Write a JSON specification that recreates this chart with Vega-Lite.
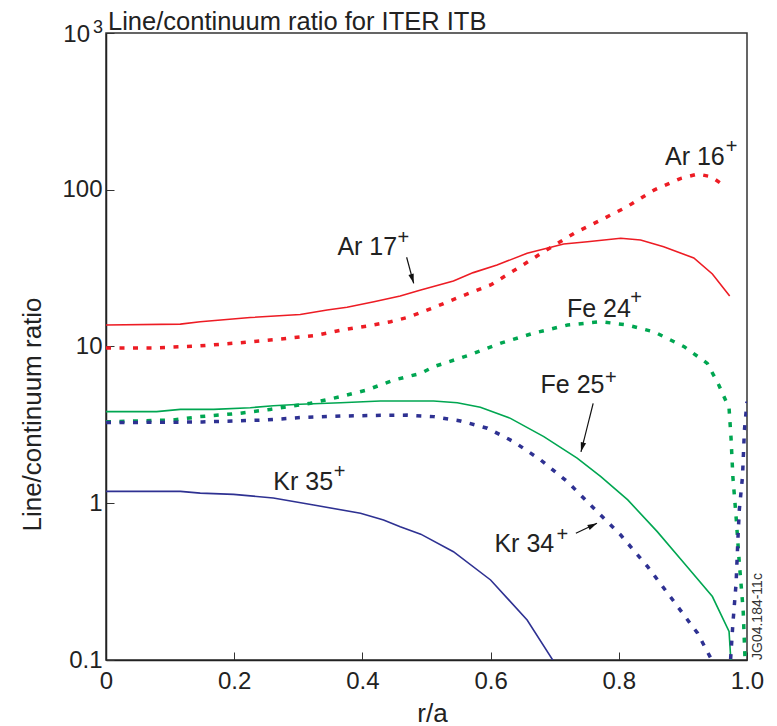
{
  "$schema": "https://vega.github.io/schema/vega-lite/v6.json",
  "width": 641,
  "height": 627,
  "autosize": {"type": "none"},
  "padding": {"left": 106, "top": 33, "right": 30, "bottom": 66},
  "background": "white",
  "config": {
    "view": {"stroke": "#333333", "strokeWidth": 1.5},
    "font": "Liberation Sans",
    "axis": {"grid": false}
  },
  "datasets": {
    "curves": [
      {"series": "Ar17", "style": "solid", "x": 0, "y": 13.7},
      {"series": "Ar17", "style": "solid", "x": 0.116, "y": 13.9},
      {"series": "Ar17", "style": "solid", "x": 0.147, "y": 14.4},
      {"series": "Ar17", "style": "solid", "x": 0.225, "y": 15.3},
      {"series": "Ar17", "style": "solid", "x": 0.303, "y": 16.0},
      {"series": "Ar17", "style": "solid", "x": 0.345, "y": 17.1},
      {"series": "Ar17", "style": "solid", "x": 0.376, "y": 17.8},
      {"series": "Ar17", "style": "solid", "x": 0.418, "y": 19.3},
      {"series": "Ar17", "style": "solid", "x": 0.459, "y": 21.0},
      {"series": "Ar17", "style": "solid", "x": 0.491, "y": 22.9},
      {"series": "Ar17", "style": "solid", "x": 0.542, "y": 26.2},
      {"series": "Ar17", "style": "solid", "x": 0.573, "y": 29.6},
      {"series": "Ar17", "style": "solid", "x": 0.610, "y": 33.1},
      {"series": "Ar17", "style": "solid", "x": 0.657, "y": 39.3},
      {"series": "Ar17", "style": "solid", "x": 0.714, "y": 45.1},
      {"series": "Ar17", "style": "solid", "x": 0.751, "y": 46.6},
      {"series": "Ar17", "style": "solid", "x": 0.803, "y": 49.0},
      {"series": "Ar17", "style": "solid", "x": 0.834, "y": 47.8},
      {"series": "Ar17", "style": "solid", "x": 0.870, "y": 43.3},
      {"series": "Ar17", "style": "solid", "x": 0.917, "y": 36.7},
      {"series": "Ar17", "style": "solid", "x": 0.946, "y": 29.0},
      {"series": "Ar17", "style": "solid", "x": 0.973, "y": 21.0},

      {"series": "Ar16", "style": "dotted", "x": 0, "y": 9.8},
      {"series": "Ar16", "style": "dotted", "x": 0.079, "y": 9.8},
      {"series": "Ar16", "style": "dotted", "x": 0.147, "y": 10.1},
      {"series": "Ar16", "style": "dotted", "x": 0.214, "y": 10.6},
      {"series": "Ar16", "style": "dotted", "x": 0.277, "y": 11.2},
      {"series": "Ar16", "style": "dotted", "x": 0.329, "y": 11.8},
      {"series": "Ar16", "style": "dotted", "x": 0.366, "y": 12.7},
      {"series": "Ar16", "style": "dotted", "x": 0.407, "y": 13.5},
      {"series": "Ar16", "style": "dotted", "x": 0.444, "y": 14.4},
      {"series": "Ar16", "style": "dotted", "x": 0.470, "y": 15.3},
      {"series": "Ar16", "style": "dotted", "x": 0.511, "y": 17.7},
      {"series": "Ar16", "style": "dotted", "x": 0.553, "y": 20.8},
      {"series": "Ar16", "style": "dotted", "x": 0.600, "y": 24.7},
      {"series": "Ar16", "style": "dotted", "x": 0.642, "y": 31.5},
      {"series": "Ar16", "style": "dotted", "x": 0.683, "y": 40.3},
      {"series": "Ar16", "style": "dotted", "x": 0.730, "y": 52.7},
      {"series": "Ar16", "style": "dotted", "x": 0.772, "y": 64.1},
      {"series": "Ar16", "style": "dotted", "x": 0.813, "y": 78.0},
      {"series": "Ar16", "style": "dotted", "x": 0.855, "y": 99.6},
      {"series": "Ar16", "style": "dotted", "x": 0.897, "y": 118.3},
      {"series": "Ar16", "style": "dotted", "x": 0.923, "y": 126.0},
      {"series": "Ar16", "style": "dotted", "x": 0.944, "y": 121.1},
      {"series": "Ar16", "style": "dotted", "x": 0.967, "y": 104.5},

      {"series": "Fe25", "style": "solid", "x": 0, "y": 3.84},
      {"series": "Fe25", "style": "solid", "x": 0.079, "y": 3.84},
      {"series": "Fe25", "style": "solid", "x": 0.116, "y": 3.97},
      {"series": "Fe25", "style": "solid", "x": 0.168, "y": 3.97},
      {"series": "Fe25", "style": "solid", "x": 0.225, "y": 4.07},
      {"series": "Fe25", "style": "solid", "x": 0.261, "y": 4.19},
      {"series": "Fe25", "style": "solid", "x": 0.303, "y": 4.28},
      {"series": "Fe25", "style": "solid", "x": 0.366, "y": 4.38},
      {"series": "Fe25", "style": "solid", "x": 0.428, "y": 4.49},
      {"series": "Fe25", "style": "solid", "x": 0.511, "y": 4.49},
      {"series": "Fe25", "style": "solid", "x": 0.548, "y": 4.38},
      {"series": "Fe25", "style": "solid", "x": 0.584, "y": 4.10},
      {"series": "Fe25", "style": "solid", "x": 0.631, "y": 3.48},
      {"series": "Fe25", "style": "solid", "x": 0.683, "y": 2.66},
      {"series": "Fe25", "style": "solid", "x": 0.735, "y": 1.94},
      {"series": "Fe25", "style": "solid", "x": 0.772, "y": 1.48},
      {"series": "Fe25", "style": "solid", "x": 0.814, "y": 1.05},
      {"series": "Fe25", "style": "solid", "x": 0.860, "y": 0.659},
      {"series": "Fe25", "style": "solid", "x": 0.902, "y": 0.414},
      {"series": "Fe25", "style": "solid", "x": 0.946, "y": 0.254},
      {"series": "Fe25", "style": "solid", "x": 0.972, "y": 0.152},
      {"series": "Fe25", "style": "solid", "x": 0.975, "y": 0.097},

      {"series": "Fe24", "style": "dotted", "x": 0, "y": 3.31},
      {"series": "Fe24", "style": "dotted", "x": 0.105, "y": 3.40},
      {"series": "Fe24", "style": "dotted", "x": 0.147, "y": 3.57},
      {"series": "Fe24", "style": "dotted", "x": 0.209, "y": 3.75},
      {"series": "Fe24", "style": "dotted", "x": 0.256, "y": 3.97},
      {"series": "Fe24", "style": "dotted", "x": 0.319, "y": 4.34},
      {"series": "Fe24", "style": "dotted", "x": 0.366, "y": 4.79},
      {"series": "Fe24", "style": "dotted", "x": 0.407, "y": 5.28},
      {"series": "Fe24", "style": "dotted", "x": 0.449, "y": 6.11},
      {"series": "Fe24", "style": "dotted", "x": 0.491, "y": 6.74},
      {"series": "Fe24", "style": "dotted", "x": 0.511, "y": 7.43},
      {"series": "Fe24", "style": "dotted", "x": 0.564, "y": 8.74},
      {"series": "Fe24", "style": "dotted", "x": 0.616, "y": 10.5},
      {"series": "Fe24", "style": "dotted", "x": 0.668, "y": 12.2},
      {"series": "Fe24", "style": "dotted", "x": 0.720, "y": 13.7},
      {"series": "Fe24", "style": "dotted", "x": 0.772, "y": 14.4},
      {"series": "Fe24", "style": "dotted", "x": 0.814, "y": 13.7},
      {"series": "Fe24", "style": "dotted", "x": 0.855, "y": 12.4},
      {"series": "Fe24", "style": "dotted", "x": 0.902, "y": 9.97},
      {"series": "Fe24", "style": "dotted", "x": 0.938, "y": 7.81},
      {"series": "Fe24", "style": "dotted", "x": 0.956, "y": 5.68},
      {"series": "Fe24", "style": "dotted", "x": 0.972, "y": 4.05},
      {"series": "Fe24", "style": "dotted", "x": 0.975, "y": 2.65},
      {"series": "Fe24", "style": "dotted", "x": 0.978, "y": 1.47},
      {"series": "Fe24", "style": "dotted", "x": 0.983, "y": 0.817},
      {"series": "Fe24", "style": "dotted", "x": 0.988, "y": 0.416},
      {"series": "Fe24", "style": "dotted", "x": 0.994, "y": 0.208},
      {"series": "Fe24", "style": "dotted", "x": 0.997, "y": 0.1},

      {"series": "Kr35", "style": "solid", "x": 0, "y": 1.19},
      {"series": "Kr35", "style": "solid", "x": 0.116, "y": 1.19},
      {"series": "Kr35", "style": "solid", "x": 0.147, "y": 1.16},
      {"series": "Kr35", "style": "solid", "x": 0.199, "y": 1.14},
      {"series": "Kr35", "style": "solid", "x": 0.261, "y": 1.08},
      {"series": "Kr35", "style": "solid", "x": 0.324, "y": 0.975},
      {"series": "Kr35", "style": "solid", "x": 0.397, "y": 0.863},
      {"series": "Kr35", "style": "solid", "x": 0.433, "y": 0.782},
      {"series": "Kr35", "style": "solid", "x": 0.459, "y": 0.709},
      {"series": "Kr35", "style": "solid", "x": 0.491, "y": 0.635},
      {"series": "Kr35", "style": "solid", "x": 0.542, "y": 0.491},
      {"series": "Kr35", "style": "solid", "x": 0.600, "y": 0.324},
      {"series": "Kr35", "style": "solid", "x": 0.657, "y": 0.180},
      {"series": "Kr35", "style": "solid", "x": 0.699, "y": 0.097},

      {"series": "Kr34", "style": "dotted", "x": 0, "y": 3.27},
      {"series": "Kr34", "style": "dotted", "x": 0.15, "y": 3.30},
      {"series": "Kr34", "style": "dotted", "x": 0.251, "y": 3.40},
      {"series": "Kr34", "style": "dotted", "x": 0.303, "y": 3.52},
      {"series": "Kr34", "style": "dotted", "x": 0.366, "y": 3.60},
      {"series": "Kr34", "style": "dotted", "x": 0.430, "y": 3.64},
      {"series": "Kr34", "style": "dotted", "x": 0.470, "y": 3.65},
      {"series": "Kr34", "style": "dotted", "x": 0.511, "y": 3.57},
      {"series": "Kr34", "style": "dotted", "x": 0.553, "y": 3.35},
      {"series": "Kr34", "style": "dotted", "x": 0.595, "y": 3.01},
      {"series": "Kr34", "style": "dotted", "x": 0.636, "y": 2.47},
      {"series": "Kr34", "style": "dotted", "x": 0.678, "y": 1.89},
      {"series": "Kr34", "style": "dotted", "x": 0.720, "y": 1.37},
      {"series": "Kr34", "style": "dotted", "x": 0.761, "y": 0.929},
      {"series": "Kr34", "style": "dotted", "x": 0.803, "y": 0.627},
      {"series": "Kr34", "style": "dotted", "x": 0.845, "y": 0.394},
      {"series": "Kr34", "style": "dotted", "x": 0.886, "y": 0.236},
      {"series": "Kr34", "style": "dotted", "x": 0.923, "y": 0.148},
      {"series": "Kr34", "style": "dotted", "x": 0.945, "y": 0.1},
      {"series": "Kr34", "style": "dotted", "x": 0.960, "y": 0.06},
      {"series": "Kr34", "style": "dotted", "x": 0.974, "y": 0.095},
      {"series": "Kr34", "style": "dotted", "x": 0.978, "y": 0.171},
      {"series": "Kr34", "style": "dotted", "x": 0.983, "y": 0.309},
      {"series": "Kr34", "style": "dotted", "x": 0.986, "y": 0.612},
      {"series": "Kr34", "style": "dotted", "x": 0.988, "y": 0.906},
      {"series": "Kr34", "style": "dotted", "x": 0.993, "y": 1.48},
      {"series": "Kr34", "style": "dotted", "x": 0.996, "y": 2.93},
      {"series": "Kr34", "style": "dotted", "x": 1.0, "y": 4.45}
    ],
    "labels": [
      {"text": "Ar 16", "x": 0.872, "y": 143.8},
      {"text": "Ar 17", "x": 0.361, "y": 38.4},
      {"text": "Fe 24", "x": 0.719, "y": 15.4},
      {"text": "Fe 25", "x": 0.678, "y": 5.05},
      {"text": "Kr 35", "x": 0.261, "y": 1.215},
      {"text": "Kr 34", "x": 0.606, "y": 0.489}
    ],
    "plus": [
      {"text": "+", "x": 0.976, "y": 188.3},
      {"text": "+", "x": 0.464, "y": 49.2},
      {"text": "+", "x": 0.827, "y": 20.3},
      {"text": "+", "x": 0.7875, "y": 6.30},
      {"text": "+", "x": 0.3645, "y": 1.589},
      {"text": "+", "x": 0.712, "y": 0.627}
    ],
    "arrows": [
      {"x": 0.469, "y": 37.1, "x2": 0.480, "y2": 25.3, "ang": 164},
      {"x": 0.760, "y": 4.34, "x2": 0.741, "y2": 2.13, "ang": 195},
      {"x": 0.733, "y": 0.643, "x2": 0.766, "y2": 0.745, "ang": 64}
    ],
    "heading": [
      {"text": "Line/continuum ratio for ITER ITB", "x": 0, "y": 1000}
    ],
    "topbase": [
      {"text": "10", "x": 0, "y": 1000}
    ],
    "topexp": [
      {"text": "3", "x": 0, "y": 1000}
    ],
    "stamp": [
      {"text": "JG04.184-11c", "x": 1.0, "y": 0.1}
    ]
  },
  "layer": [
    {
      "data": {"name": "curves"},
      "transform": [{"filter": "datum.style == 'solid'"}],
      "mark": {"type": "line", "clip": true, "strokeWidth": 1.6},
      "encoding": {
        "x": {
          "field": "x", "type": "quantitative",
          "scale": {"domain": [0, 1], "nice": false, "zero": false},
          "axis": {
            "title": "r/a",
            "values": [0, 0.2, 0.4, 0.6, 0.8, 1.0],
            "labelExpr": "datum.value == 0 ? '0' : format(datum.value, '.1f')",
            "tickSize": -8,
            "tickColor": "#333333",
            "tickWidth": 1,
            "domainColor": "#222222",
            "domainWidth": 1.5,
            "labelFontSize": 24,
            "labelColor": "#222222",
            "labelPadding": 17,
            "labelFlush": false,
            "titleFontSize": 26,
            "titleFontWeight": "normal",
            "titleColor": "#222222",
            "titleX": 326,
            "titleY": 53,
            "titleBaseline": "middle",
            "titleAlign": "center"
          }
        },
        "y": {
          "field": "y", "type": "quantitative",
          "scale": {"type": "log", "domain": [0.1, 1000], "nice": false},
          "axis": {
            "title": "Line/continuum ratio",
            "values": [0.1, 1, 10, 100, 1000],
            "labelExpr": "datum.value >= 1000 ? '' : (datum.value < 1 ? '0.1' : format(datum.value, 'd'))",
            "tickSize": -8,
            "tickColor": "#333333",
            "tickWidth": 1,
            "domainColor": "#222222",
            "domainWidth": 1.5,
            "labelFontSize": 24,
            "labelColor": "#222222",
            "labelPadding": 12,
            "labelFlush": false,
            "titleFontSize": 26,
            "titleFontWeight": "normal",
            "titleColor": "#222222",
            "titleAngle": -90,
            "titleX": -74,
            "titleY": 381,
            "titleBaseline": "middle",
            "titleAlign": "center"
          }
        },
        "color": {
          "field": "series", "type": "nominal",
          "scale": {
            "domain": ["Ar17", "Ar16", "Fe25", "Fe24", "Kr35", "Kr34"],
            "range": ["#ed1c24", "#ed1c24", "#00a651", "#00a651", "#2e3192", "#2e3192"]
          },
          "legend": null
        }
      }
    },
    {
      "data": {"name": "curves"},
      "transform": [{"filter": "datum.style == 'dotted'"}],
      "mark": {"type": "line", "clip": true, "strokeWidth": 3.5, "strokeDash": [5, 8.5]},
      "encoding": {
        "x": {"field": "x", "type": "quantitative"},
        "y": {"field": "y", "type": "quantitative"},
        "color": {"field": "series", "type": "nominal", "legend": null}
      }
    },
    {
      "data": {"name": "arrows"},
      "mark": {"type": "rule", "color": "#111111", "strokeWidth": 1.2},
      "encoding": {
        "x": {"field": "x", "type": "quantitative"},
        "y": {"field": "y", "type": "quantitative"},
        "x2": {"field": "x2"},
        "y2": {"field": "y2"}
      }
    },
    {
      "data": {"name": "arrows"},
      "mark": {"type": "point", "shape": "M0,0L-0.55,1.9L0.55,1.9Z", "filled": true, "color": "#111111", "size": 100, "opacity": 1, "strokeWidth": 0},
      "encoding": {
        "x": {"field": "x2", "type": "quantitative"},
        "y": {"field": "y2", "type": "quantitative"},
        "angle": {"field": "ang", "type": "quantitative", "scale": null}
      }
    },
    {
      "data": {"name": "labels"},
      "mark": {"type": "text", "align": "left", "baseline": "alphabetic", "fontSize": 25, "color": "#222222"},
      "encoding": {
        "x": {"field": "x", "type": "quantitative"},
        "y": {"field": "y", "type": "quantitative"},
        "text": {"field": "text"}
      }
    },
    {
      "data": {"name": "plus"},
      "mark": {"type": "text", "align": "center", "baseline": "middle", "fontSize": 20, "color": "#222222"},
      "encoding": {
        "x": {"field": "x", "type": "quantitative"},
        "y": {"field": "y", "type": "quantitative"},
        "text": {"field": "text"}
      }
    },
    {
      "data": {"name": "heading"},
      "mark": {"type": "text", "align": "left", "baseline": "alphabetic", "fontSize": 25.5, "dx": 2, "dy": -3, "color": "#222222"},
      "encoding": {
        "x": {"field": "x", "type": "quantitative"},
        "y": {"field": "y", "type": "quantitative"},
        "text": {"field": "text"}
      }
    },
    {
      "data": {"name": "topbase"},
      "mark": {"type": "text", "align": "right", "baseline": "middle", "fontSize": 24, "dx": -16, "dy": 2, "color": "#222222"},
      "encoding": {
        "x": {"field": "x", "type": "quantitative"},
        "y": {"field": "y", "type": "quantitative"},
        "text": {"field": "text"}
      }
    },
    {
      "data": {"name": "topexp"},
      "mark": {"type": "text", "align": "right", "baseline": "middle", "fontSize": 18, "dx": -3, "dy": -5, "color": "#222222"},
      "encoding": {
        "x": {"field": "x", "type": "quantitative"},
        "y": {"field": "y", "type": "quantitative"},
        "text": {"field": "text"}
      }
    },
    {
      "data": {"name": "stamp"},
      "mark": {"type": "text", "align": "left", "baseline": "middle", "angle": 270, "fontSize": 14, "dx": 0, "dy": 11, "color": "#333333"},
      "encoding": {
        "x": {"field": "x", "type": "quantitative"},
        "y": {"field": "y", "type": "quantitative"},
        "text": {"field": "text"}
      }
    }
  ]
}
